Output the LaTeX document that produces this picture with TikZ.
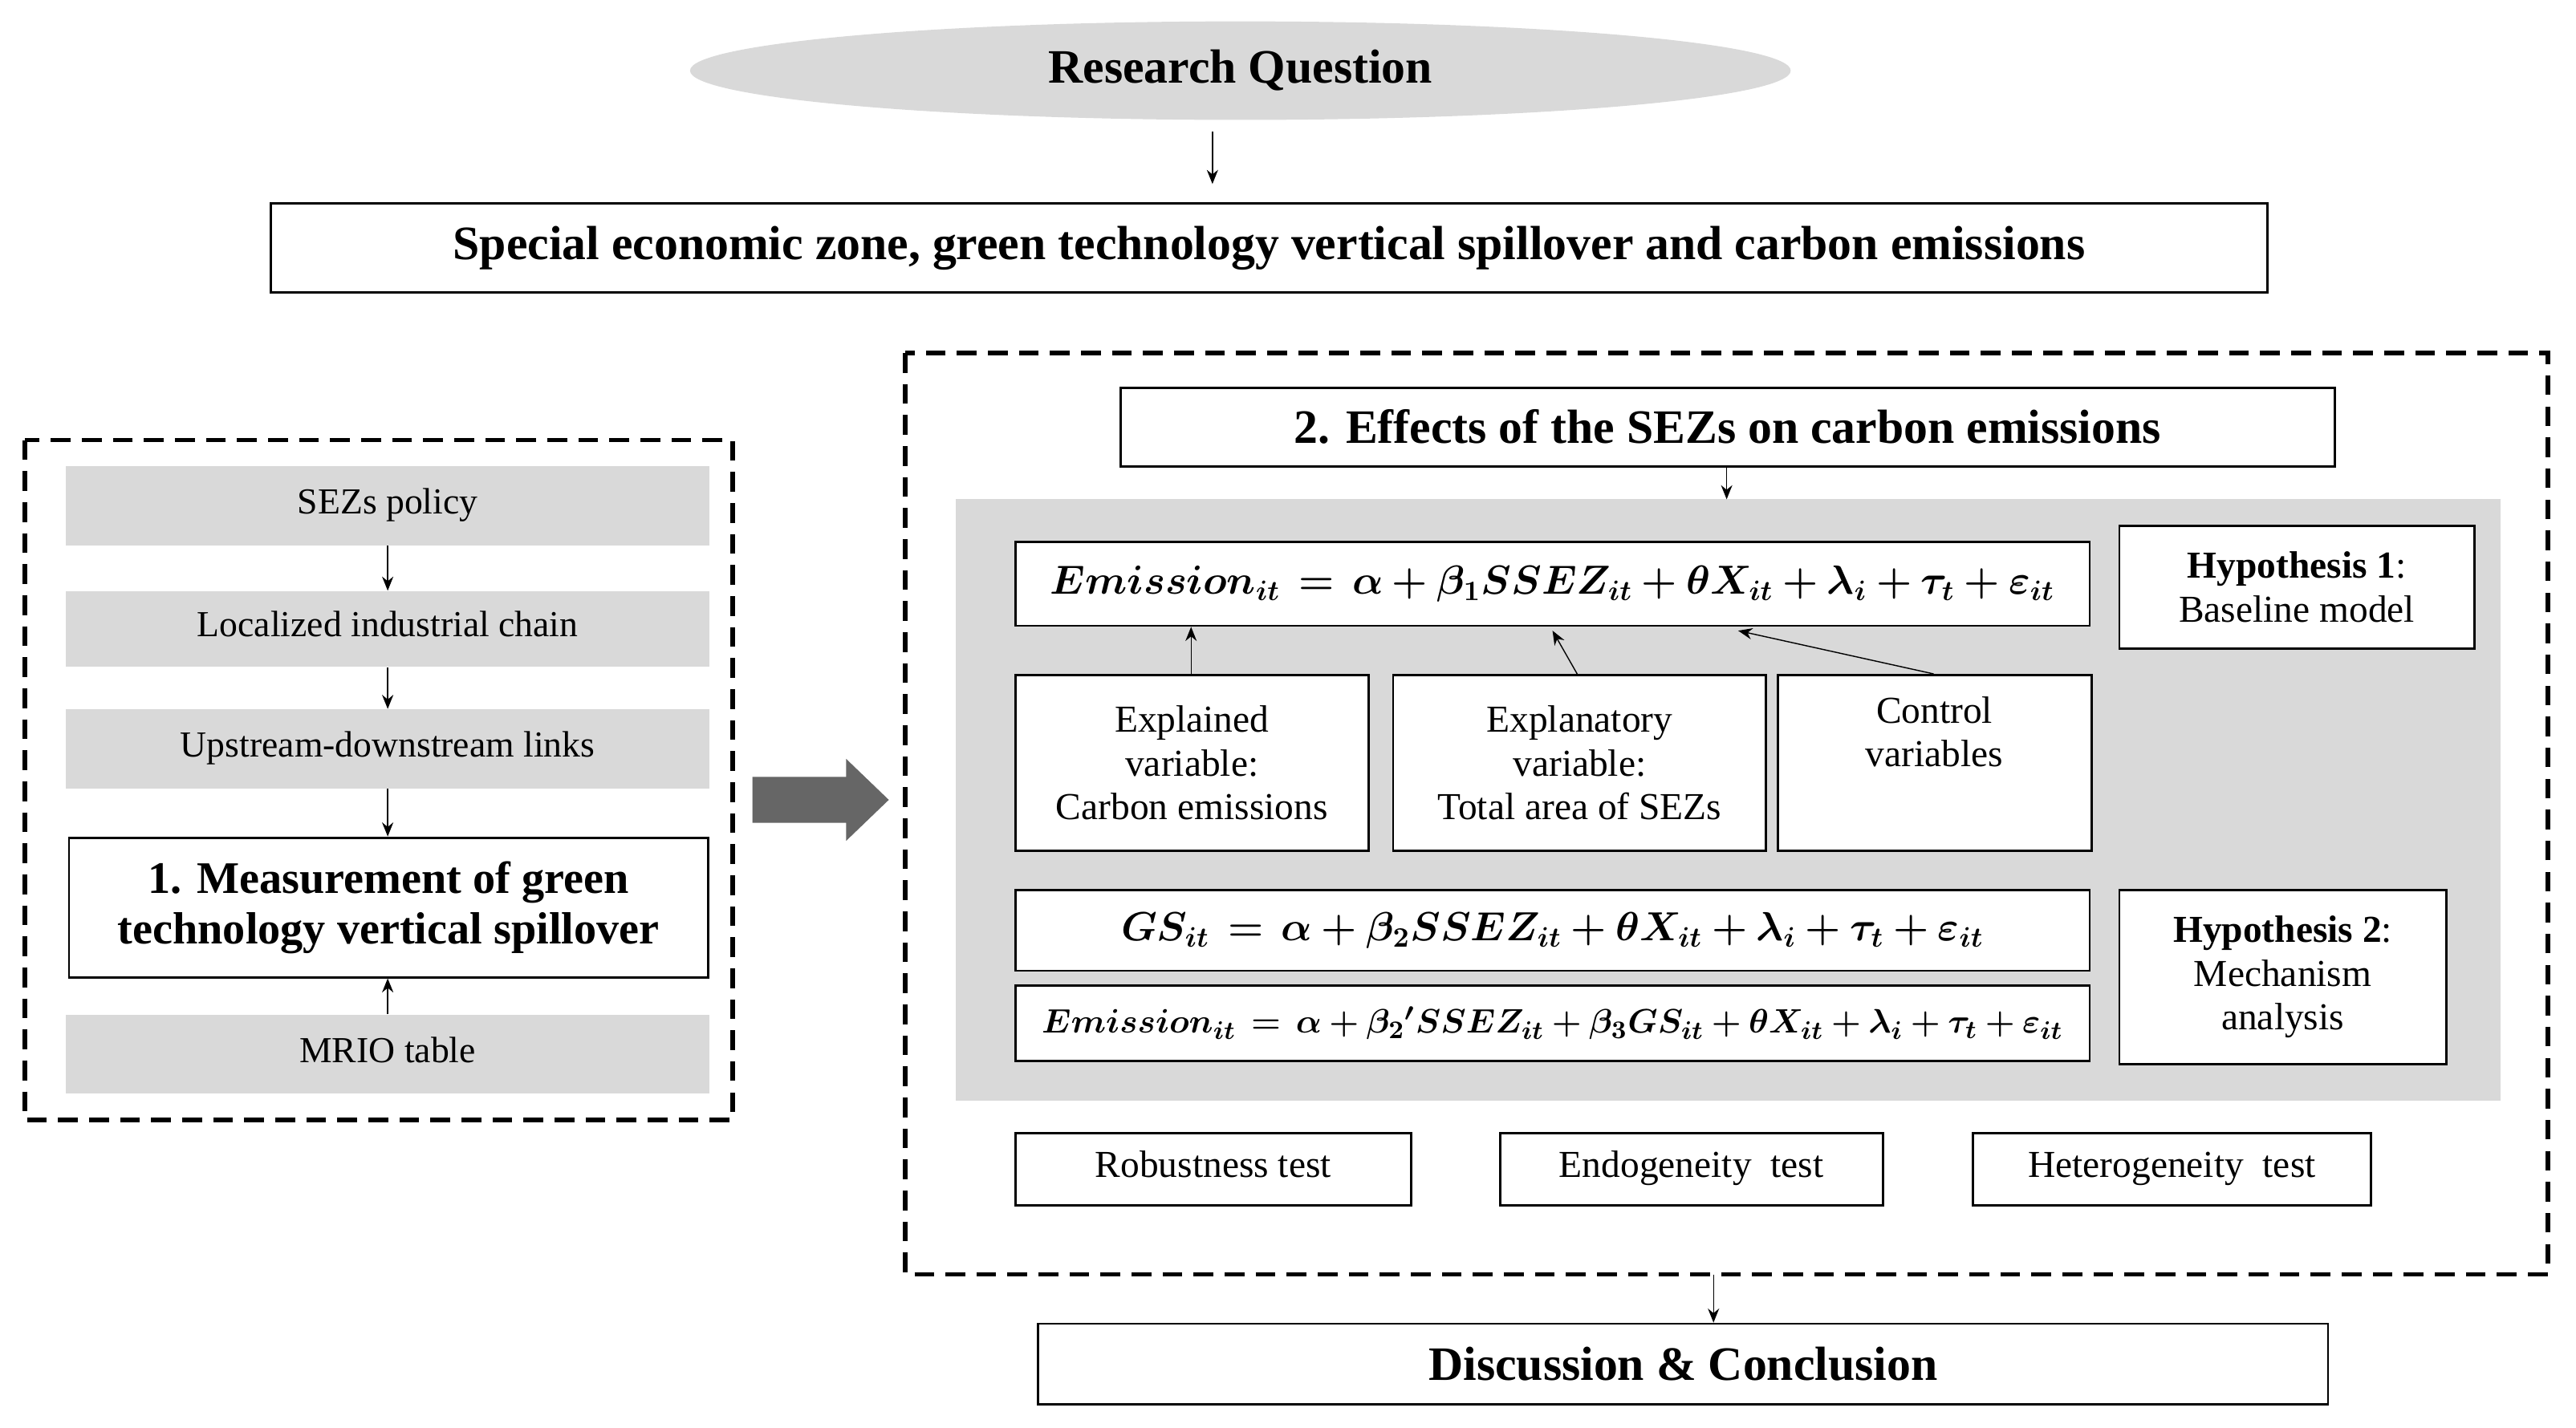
\documentclass[tikz,border=0pt]{standalone}
\usepackage{fontspec}
\usepackage{bm}
\setmainfont{Liberation Serif}
\usetikzlibrary{shapes.geometric,arrows.meta}

\tikzset{
    box/.style={draw, thick, inner sep=2pt, align=center, font=\fontsize{13.5}{15.5}\selectfont},
    head/.style={box, font=\bfseries\fontsize{17}{20}\selectfont},
    grey/.style={fill=black!15, inner sep=2pt, align=center, font=\fontsize{13}{15}\selectfont},
    wbox/.style={box, fill=white},
    eq/.style={wbox, font=\fontsize{14}{16}\selectfont},
    line/.style={text height=1.6ex, text depth=.4ex},
    dbox/.style={draw, line width=1.6pt, dash pattern=on 7pt off 4pt},
    arr/.style={-{Stealth[length=5pt,width=4pt]}, thin}
}
% box from two corners, in reference pixels
\newcommand\bx[7]{\node[#2, minimum width={(#5-#3)*0.2047mm}, minimum height={(#6-#4)*0.2047mm}] (#1) at ({(#3+#5)/2},{(#4+#6)/2}) {#7};}

\begin{document}
\begin{tikzpicture}[x=0.2047mm, y=-0.2047mm]
    \useasboundingbox (0,0) rectangle (1568,869);

    % research question
    \node[ellipse, fill=black!15, minimum width=670*0.2047mm, minimum height=60*0.2047mm,
          font=\bfseries\fontsize{17}{20}\selectfont] (rq) at (755,43) {Research Question};
    \bx{topic}{head}{165}{124}{1380}{178}{Special economic zone, green technology vertical spillover and carbon emissions}
    \coordinate (rqs) at (738,80);
    \coordinate (rqe) at (738,112);
    \draw[arr] (rqs) -- (rqe);

    % left part
    \draw[dbox] (15,268) rectangle (446,682);
    \bx{policy}{grey, line}{40}{284}{432}{332}{SEZs policy}
    \bx{chain}{grey, line}{40}{360}{432}{406}{Localized industrial chain}
    \bx{links}{grey, line}{40}{432}{432}{480}{Upstream-downstream links}
    \bx{measure}{box, font=\bfseries\fontsize{16}{18}\selectfont}{42}{510}{431}{595}{1. Measurement of green\\technology vertical spillover}
    \bx{mrio}{grey, line}{40}{618}{432}{666}{MRIO table}
    \draw[arr] (policy.south -| 236,0) -- (chain.north -| 236,0);
    \draw[arr] (chain.south -| 236,0) -- (links.north -| 236,0);
    \draw[arr] (links.south -| 236,0) -- (measure.north -| 236,0);
    \draw[arr] (mrio.north -| 236,0) -- (measure.south -| 236,0);

    % big arrow
    \fill[black!60] (458,473) -- (515,473) -- (515,462) -- (541,487) -- (515,512) -- (515,501) -- (458,501) -- cycle;

    % right part
    \draw[dbox] (551,215) rectangle (1551,776);
    \bx{effects}{head}{682}{236}{1421}{284}{2. Effects of the SEZs on carbon emissions}
    \fill[black!15] (582,304) rectangle (1522,670);
    \coordinate (panel) at (1051,304);
    \draw[arr] (effects.south -| panel) -- (panel);

    \bx{eqa}{eq}{618}{330}{1272}{381}{$\bm{Emission_{it} \,=\, \alpha + \beta_1 SSEZ_{it} + \theta X_{it} + \lambda_i + \tau_t + \varepsilon_{it}}$}
    \bx{hypa}{wbox}{1290}{320}{1506}{395}{\textbf{Hypothesis 1}:\\Baseline model}
    \bx{expd}{wbox}{618}{411}{833}{518}{Explained\\variable:\\Carbon emissions}
    \bx{expy}{wbox}{848}{411}{1075}{518}{Explanatory\\variable:\\Total area of SEZs}
    \bx{ctrl}{wbox, text depth=22pt}{1082}{411}{1273}{518}{Control\\variables}
    \draw[arr] (expd.north -| 725,0) -- (eqa.south -| 725,0);
    \draw[arr] (expy.north -| 960,0) -- (945,384);
    \draw[arr] (ctrl.north -| 1177,0) -- (1058,384);

    \bx{eqb}{eq}{618}{542}{1272}{591}{$\bm{GS_{it} \,=\, \alpha + \beta_2 SSEZ_{it} + \theta X_{it} + \lambda_i + \tau_t + \varepsilon_{it}}$}
    \bx{eqc}{eq, font=\fontsize{13}{15}\selectfont}{618}{600}{1272}{646}{$\bm{Emission_{it} \,=\, \alpha + \beta_2{}' SSEZ_{it} + \beta_3 GS_{it} + \theta X_{it} + \lambda_i + \tau_t + \varepsilon_{it}}$}
    \bx{hypb}{wbox}{1290}{542}{1489}{648}{\textbf{Hypothesis 2}:\\Mechanism\\analysis}

    \bx{robust}{box, line}{618}{690}{859}{734}{Robustness test}
    \bx{endo}{box, line}{913}{690}{1146}{734}{Endogeneity~ test}
    \bx{hetero}{box, line}{1201}{690}{1443}{734}{Heterogeneity~ test}

    % conclusion
    \bx{concl}{head}{632}{806}{1417}{855}{Discussion \& Conclusion}
    \coordinate (rbox) at (1043,776);
    \draw[arr] (rbox) -- (concl.north -| rbox);
\end{tikzpicture}
\end{document}
